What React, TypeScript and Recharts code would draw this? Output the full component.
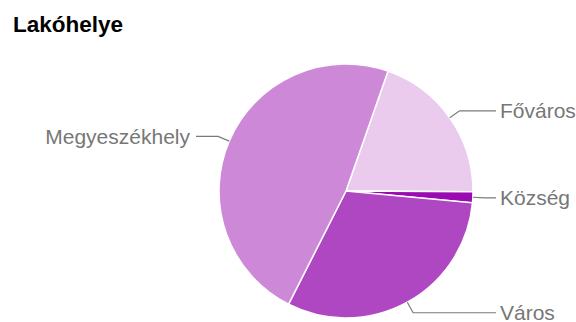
import { Pie, PieChart, Cell } from "recharts";

const categories = ["Főváros", "Község", "Város", "Megyeszékhely"];
const counts = [14, 1, 22, 34];
const COLORS = ["#eacbee", "#990bb0", "#b047c2", "#cd89d8"];

const data = categories.map((name, i) => ({ name, value: counts[i] }));

const RAD = Math.PI / 180;

function renderLabel(props: any) {
  const { cx, cy, midAngle, outerRadius, name } = props;
  const cos = Math.cos(-midAngle * RAD);
  const sin = Math.sin(-midAngle * RAD);
  const sx = cx + outerRadius * cos;
  const sy = cy + outerRadius * sin;
  const mx = cx + (outerRadius + 12) * cos;
  const my = cy + (outerRadius + 12) * sin;
  const right = cos >= 0;
  const ex = right ? 496 : 196;
  const tx = right ? 500 : 190;
  return (
    <g key={name}>
      <polyline
        points={`${sx},${sy} ${mx},${my} ${ex},${my}`}
        fill="none"
        stroke="#7a7a7a"
        strokeWidth={1.2}
      />
      <text
        x={tx}
        y={my}
        textAnchor={right ? "start" : "end"}
        dominantBaseline="central"
        fill="#777"
        fontSize={21}
        fontFamily="'Liberation Sans', Arial, sans-serif"
      >
        {name}
      </text>
    </g>
  );
}

export default function App() {
  return (
    <div style={{ position: "absolute", left: 0, top: 0, width: 576, height: 322, background: "#fff" }}>
      <div
        style={{
          position: "absolute",
          left: 13,
          top: 12,
          fontFamily: "'Liberation Sans', Arial, sans-serif",
          fontWeight: "bold",
          fontSize: 22.5,
          color: "#000",
          lineHeight: "26px",
        }}
      >
        Lakóhelye
      </div>
      <PieChart width={576} height={322} margin={{ top: 0, right: 0, bottom: 0, left: 0 }}>
        <Pie
          data={data}
          dataKey="value"
          nameKey="name"
          cx={346}
          cy={191}
          outerRadius={127}
          startAngle={70.7}
          endAngle={-289.3}
          stroke="#fff"
          strokeWidth={1.5}
          label={renderLabel}
          labelLine={false}
          isAnimationActive={false}
        >
          {data.map((entry, i) => (
            <Cell key={entry.name} fill={COLORS[i]} />
          ))}
        </Pie>
      </PieChart>
    </div>
  );
}
